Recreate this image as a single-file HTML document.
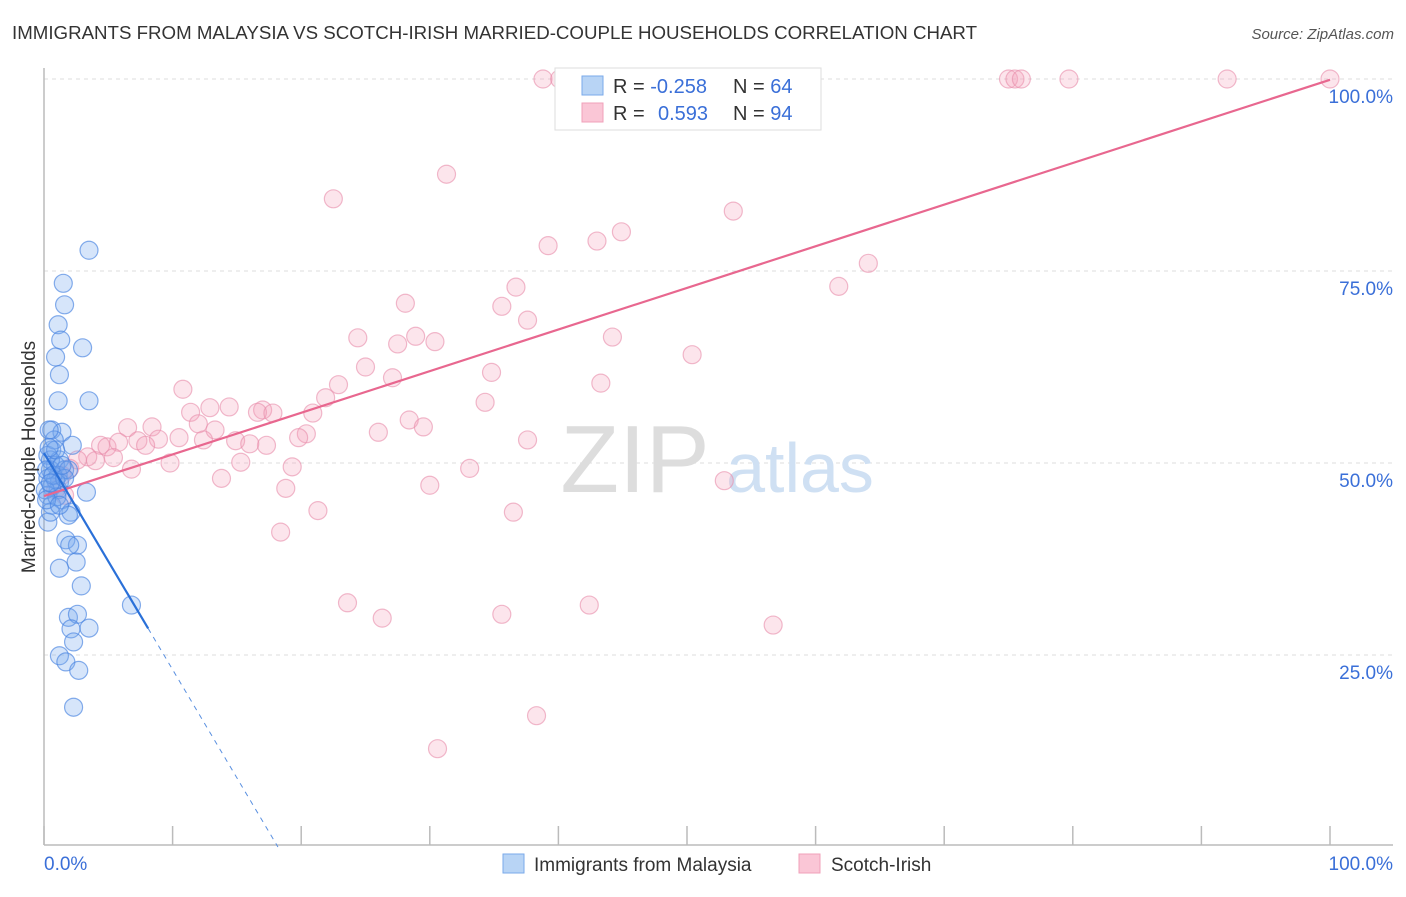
<!DOCTYPE html>
<html><head><meta charset="utf-8"><style>
body{margin:0;background:#fff;font-family:"Liberation Sans",sans-serif}
svg text{font-family:"Liberation Sans",sans-serif}
</style></head><body>
<svg id="chart" width="1406" height="892" xmlns="http://www.w3.org/2000/svg">
<text x="12" y="39" font-size="18" textLength="965" lengthAdjust="spacingAndGlyphs" fill="#333">IMMIGRANTS FROM MALAYSIA VS SCOTCH-IRISH MARRIED-COUPLE HOUSEHOLDS CORRELATION CHART</text>
<text x="1394" y="39" font-size="15" fill="#555" font-style="italic" text-anchor="end">Source: ZipAtlas.com</text>
<g id="grid"></g>
<text x="635" y="492" font-size="96" fill="#ddd" font-family="Liberation Serif" text-anchor="middle">ZIP</text>
<text x="800" y="492" font-size="70" fill="#cfe0f3" text-anchor="middle">atlas</text>
<g id="axes"></g>
<g id="pts"></g>
<g id="trends"></g>
<text transform="translate(35,457) rotate(-90)" font-size="19" fill="#333" text-anchor="middle">Married-couple Households</text>
<g>
<rect x="555" y="68" width="266" height="62" fill="#fff" stroke="#ddd"/>
<rect x="582" y="76" width="21" height="19" fill="#b8d4f5" stroke="#7aaaea"/>
<rect x="582" y="103" width="21" height="19" fill="#fac6d6" stroke="#f0a0ba"/>
<text x="613" y="93" font-size="20" fill="#333">R = <tspan fill="#3a6fd8">-0.258</tspan></text>
<text x="733" y="93" font-size="20" fill="#333">N = <tspan fill="#3a6fd8">64</tspan></text>
<text x="613" y="120" font-size="20" fill="#333">R = <tspan fill="#3a6fd8" x="658">0.593</tspan></text>
<text x="733" y="120" font-size="20" fill="#333">N = <tspan fill="#3a6fd8">94</tspan></text>
</g>
<g>
<rect x="503" y="854" width="21" height="19" fill="#b8d4f5" stroke="#7aaaea"/>
<text x="534" y="871" font-size="19" fill="#333">Immigrants from Malaysia</text>
<rect x="799" y="854" width="21" height="19" fill="#fac6d6" stroke="#f0a0ba"/>
<text x="831" y="871" font-size="19" fill="#333">Scotch-Irish</text>
</g>
</svg>
<script>
const yTicks=[25,50,75,100];
const yTickLabels=["25.0%","50.0%","75.0%","100.0%"];
const xTickLabels=["0.0%","100.0%"];
const blueX=[3.5,1.5,1.6,1.1,1.3,3.0,0.9,1.2,1.1,3.5,0.6,1.4,2.2,0.6,0.3,1.2,0.9,0.5,1.6,1.1,0.3,1.2,0.6,1.1,3.3,0.3,1.4,0.6,0.3,2.1,1.9,1.7,2.6,2.0,1.2,2.5,2.9,6.8,1.9,2.6,2.1,3.5,2.3,1.2,1.7,2.7,2.3,0.5,0.9,0.1,0.5,0.8,1.9,0.2,0.7,1.0,0.4,0.2,1.6,0.9,0.5,1.4,1.2,0.4];
const blueY=[77.7,73.4,70.6,68.0,66.0,65.0,63.8,61.5,58.1,58.1,54.3,54.0,52.3,51.7,51.0,50.4,49.7,49.1,49.1,48.4,48.0,47.5,46.9,46.5,46.2,45.8,45.2,44.5,42.3,43.6,43.2,40.0,39.3,39.3,36.3,37.1,34.0,31.5,29.9,30.3,28.4,28.5,26.7,24.9,24.1,23.0,18.2,50.4,47.8,46.5,43.6,53.0,49.1,49.1,48.4,45.6,54.3,45.2,48.0,51.7,47.4,49.7,44.5,52.0];
const pinkX=[38.8,40.1,40.6,40.9,49.2,49.8,56.1,75.0,75.5,76.0,79.7,92.0,100,31.3,22.5,53.6,39.2,43.0,44.9,64.1,61.8,36.7,28.1,35.6,37.6,24.4,27.5,28.9,30.4,44.2,50.4,25.0,27.1,34.8,43.3,10.8,22.9,14.4,17.0,12.9,11.4,16.6,17.8,20.9,21.9,12.0,13.3,6.5,8.4,28.4,29.5,26.0,34.3,20.4,19.8,4.4,4.9,7.3,8.9,7.9,5.8,10.5,12.4,14.9,17.3,16.0,37.6,5.4,3.4,4.0,9.8,15.3,19.3,6.8,13.8,33.1,30.0,18.8,52.9,21.3,36.5,18.4,23.6,26.3,35.6,42.4,56.7,38.3,30.6,2.6,2.0,1.4,0.9,1.6];
const pinkY=[100,100,100,100,100,100,100,100,100,100,100,100,100,87.6,84.4,82.8,78.3,78.9,80.1,76.0,73.0,72.9,70.8,70.4,68.6,66.3,65.5,66.5,65.8,66.4,64.1,62.5,61.1,61.8,60.4,59.6,60.2,57.3,56.9,57.2,56.6,56.6,56.5,56.5,58.5,55.1,54.3,54.6,54.7,55.6,54.7,54.0,57.9,53.8,53.3,52.3,52.1,52.9,53.1,52.3,52.7,53.3,53.0,52.9,52.3,52.5,53.0,50.7,50.8,50.3,50.0,50.1,49.5,49.2,48.0,49.3,47.1,46.7,47.7,43.8,43.6,41.0,31.8,29.8,30.3,31.5,28.9,17.1,12.8,50.4,49.3,48.4,46.5,45.8];
const blueTrend=[51.3,-2.82];
const pinkTrend=[45.7,0.542];
const blueSolidEnd=8.1;
const X=v=>44+v*12.86, Y=v=>847-v*7.68;
const NS="http://www.w3.org/2000/svg";
function mk(tag,attrs,parent){const e=document.createElementNS(NS,tag);for(const k in attrs)e.setAttribute(k,attrs[k]);parent.appendChild(e);return e;}
const grid=document.getElementById('grid'),axes=document.getElementById('axes'),pts=document.getElementById('pts'),tr=document.getElementById('trends'),svg=document.getElementById('chart');
yTicks.forEach((t,i)=>{
  const l=mk('line',{x1:44,x2:1393,y1:Y(t),y2:Y(t),stroke:'#ddd','stroke-dasharray':'4,4'},grid);
  
  
  const tx=mk('text',{x:1393,y:Y(t)+24,'font-size':19,fill:'#3a6fd8','text-anchor':'end'},svg);
  tx.textContent=yTickLabels[i];
  
  
});
mk('line',{x1:44,x2:44,y1:68,y2:845,stroke:'#bbb','stroke-width':1.5},axes);
mk('line',{x1:44,x2:1393,y1:845,y2:845,stroke:'#bbb','stroke-width':1.5},axes);
for(let i=0;i<=10;i++){const t=mk('line',{x1:X(i*10),x2:X(i*10),y1:826,y2:845,stroke:'#bbb','stroke-width':1.5},axes);
  
  }
[[0,'start'],[100,'end']].forEach((p,i)=>{const t=mk('text',{x:i?1393:44,y:870,'font-size':19,fill:'#3a6fd8','text-anchor':p[1]},svg);t.textContent=xTickLabels[i];
  
  });
pinkX.forEach((x,i)=>{const c=mk('circle',{cx:X(x),cy:Y(pinkY[i]),r:9,fill:'rgba(245,160,188,0.28)',stroke:'rgba(232,140,170,0.6)','stroke-width':1.2},pts);
  
  });
blueX.forEach((x,i)=>{const c=mk('circle',{cx:X(x),cy:Y(blueY[i]),r:9,fill:'rgba(120,170,240,0.3)',stroke:'rgba(70,130,225,0.65)','stroke-width':1.2},pts);
  
  });
const pl=mk('line',{x1:X(0),y1:Y(pinkTrend[0]),x2:X(100),y2:Y(pinkTrend[0]+pinkTrend[1]*100),stroke:'#e8678f','stroke-width':2.2},tr);


const bl=mk('line',{x1:X(0),y1:Y(blueTrend[0]),x2:X(blueSolidEnd),y2:Y(blueTrend[0]+blueTrend[1]*blueSolidEnd),stroke:'#2a70d8','stroke-width':2.2},tr);


const xEnd=-blueTrend[0]/blueTrend[1];
const bd=mk('line',{x1:X(blueSolidEnd),y1:Y(blueTrend[0]+blueTrend[1]*blueSolidEnd),x2:X(xEnd),y2:Y(0),stroke:'#5a90e0','stroke-width':1,'stroke-dasharray':'5,5'},tr);


</script>
</body></html>
